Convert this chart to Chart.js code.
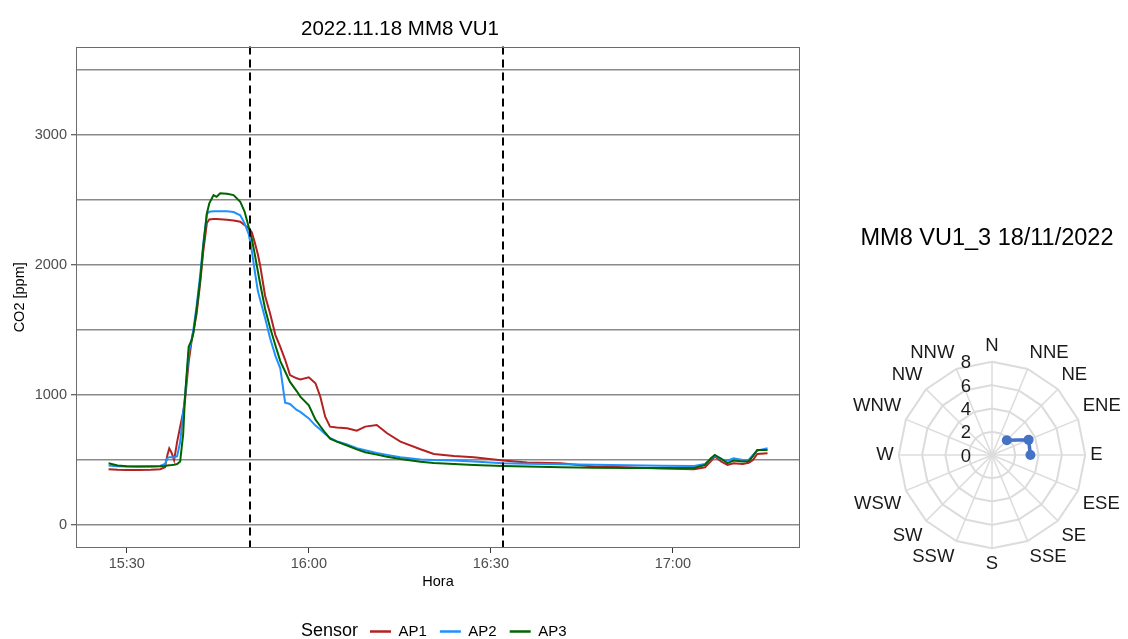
<!DOCTYPE html>
<html><head><meta charset="utf-8">
<script src="https://cdn.jsdelivr.net/npm/chart.js@4.4.1/dist/chart.umd.min.js"></script>
<style>
html,body{margin:0;padding:0;background:#fff;overflow:hidden;width:1128px;height:639px;}
canvas{position:absolute;}
#co2{left:0;top:0;}
#wind{left:848px;top:220px;}
</style></head><body>
<canvas id="co2" width="820" height="639"></canvas>
<canvas id="wind" width="278" height="402"></canvas>
<script>
// ---------- data ----------
const sampleTimes = ['15:27:00','15:28:30','15:30:00','15:32:00','15:34:00','15:35:30','15:36:18','15:36:42','15:37:00','15:37:24',
 '15:37:48','15:38:18','15:38:48','15:39:18','15:39:36','15:40:12','15:40:42','15:41:00','15:41:30','15:42:06',
 '15:42:36','15:43:12','15:43:36','15:44:18','15:44:48','15:45:24','15:46:30','15:47:36','15:48:42','15:49:24',
 '15:50:06','15:50:36','15:51:06','15:51:36','15:52:00','15:52:48','15:53:36','15:54:30','15:55:18','15:56:06',
 '15:56:54','15:58:00','15:58:36','16:00:00','16:01:06','16:01:54','16:02:42','16:03:30','16:04:36','16:06:18',
 '16:07:54','16:09:18','16:11:12','16:12:54','16:15:06','16:18:24','16:20:36','16:23:54','16:27:12','16:32:00',
 '16:36:00','16:41:30','16:47:00','16:52:30','16:58:00','17:03:30','17:05:18','17:06:12','17:06:54','17:08:00',
 '17:09:00','17:10:00','17:11:30','17:12:30','17:13:12','17:13:54','17:15:36'];
const ap1 = [430,425,424,424,426,430,445,540,590,555,
 500,640,757,870,960,1250,1420,1490,1620,1860,
 2100,2320,2348,2352,2352,2350,2345,2340,2330,2305,
 2280,2250,2170,2080,1990,1760,1630,1460,1370,1270,
 1153,1128,1120,1136,1090,987,833,757,750,744,
 726,757,770,706,642,583,547,532,522,496,
 481,476,450,445,435,430,445,488,527,488,
 463,476,470,480,501,547,553];
const ap2 = [458,452,450,450,452,455,470,515,522,522,
 520,530,640,862,990,1320,1430,1510,1680,1920,
 2160,2390,2407,2410,2410,2410,2410,2405,2380,2320,
 2235,2110,1950,1800,1730,1590,1440,1300,1205,941,
 931,885,870,820,765,735,700,670,645,620,
 591,575,555,540,522,505,500,496,490,476,
 472,468,464,460,457,455,470,510,532,505,
 496,514,500,501,540,573,591];
const ap3 = [476,458,452,450,450,452,455,458,460,462,
 465,470,490,700,987,1371,1422,1480,1652,1883,
 2138,2394,2471,2535,2522,2548,2545,2535,2484,2410,
 2290,2200,2080,1950,1850,1660,1520,1380,1260,1180,
 1100,1030,987,920,810,760,710,665,642,612,
 582,560,542,525,508,487,478,470,463,455,
 450,445,442,440,440,440,463,510,540,510,
 476,496,490,492,530,578,578];
const sensorNames = ['AP1','AP2','AP3'];
const eventTimes = ['15:50:20','16:32:00'];
const xTickLabels = ['15:30','16:00','16:30','17:00'];
const yTickValues = [0,1000,2000,3000];
const yGridValues = [0,500,1000,1500,2000,2500,3000,3500];
const windDirections = ['N','NNE','NE','ENE','E','ESE','SE','SSE','S','SSW','SW','WSW','W','WNW','NW','NNW'];
const windSpeeds = [null,null,1.8,3.4,3.3,null,null,null,null,null,null,null,null,null,null,null];
const windTicks = [0,2,4,6,8];

// ---------- helpers ----------
const FONT = "'Liberation Sans', Arial, sans-serif";
Chart.defaults.font.family = FONT;
function toMin(s){ const p = s.split(':').map(Number); return p[0]*60 + p[1] + (p[2]||0)/60; }
const seriesColors = ['#B22222','#1E90FF','#006400'];
const seriesValues = [ap1, ap2, ap3];

const co2Decor = {
  id: 'co2Decor',
  afterLayout(chart){
    const lg = chart.legend;
    if (!lg) return;
    const pad = lg.options.labels.padding;
    lg.left = 370 - pad; lg.right = lg.left + 420; lg.width = 420;
    lg.top = 631.5 - pad - 7.5; lg.bottom = lg.top + lg.height;
  },
  afterDatasetsDraw(chart){
    const {ctx, chartArea:a, scales:{x}} = chart;
    ctx.save();
    ctx.strokeStyle = '#000'; ctx.lineWidth = 2; ctx.setLineDash([8,5]);
    eventTimes.forEach(t => {
      const px = Math.round(x.getPixelForValue(toMin(t)));
      ctx.beginPath(); ctx.moveTo(px, a.top); ctx.lineTo(px, a.bottom); ctx.stroke();
    });
    ctx.restore();
  },
  afterDraw(chart){
    const {ctx, chartArea:a} = chart;
    ctx.save();
    ctx.strokeStyle = '#6b6b6b'; ctx.lineWidth = 1;
    ctx.strokeRect(Math.round(a.left)+0.5, Math.round(a.top)+0.5, Math.round(a.right-a.left)-1, Math.round(a.bottom-a.top)-1);
    const lg = chart.legend;
    ctx.fillStyle = '#000'; ctx.font = '18px ' + FONT; ctx.textAlign = 'right'; ctx.textBaseline = 'middle';
    ctx.fillText('Sensor', lg.left + lg.options.labels.padding - 12, 631.5);
    ctx.restore();
  }
};

new Chart(document.getElementById('co2'), {
  type: 'line',
  data: {
    datasets: sensorNames.map((name, i) => ({
      label: name,
      data: sampleTimes.map((t, k) => ({x: toMin(t), y: seriesValues[i][k]})),
      borderColor: seriesColors[i], backgroundColor: seriesColors[i],
      borderWidth: 2, pointRadius: 0, tension: 0, fill: false, order: 3 - i
    }))
  },
  options: {
    responsive: false, animation: false,
    layout: {padding: {left: 0, right: 20, top: 0, bottom: 0}},
    plugins: {
      tooltip: {enabled: false},
      title: {display: true, text: '2022.11.18 MM8 VU1', color: '#000',
        font: {size: 20.5, weight: 'normal'}, padding: {top: 17, bottom: 5}},
      legend: {display: true, position: 'bottom', align: 'start',
        labels: {boxWidth: 21, boxHeight: 2.5, padding: 13, color: '#000', font: {size: 15},
          generateLabels: (chart) => chart.data.datasets.map((d, i) => ({
            text: d.label, fillStyle: d.borderColor, strokeStyle: d.borderColor,
            lineWidth: 0, hidden: false, datasetIndex: i}))}}
    },
    scales: {
      x: {
        type: 'linear', min: toMin('15:21:38'), max: toMin('17:20:57'),
        afterBuildTicks: (s) => { s.ticks = xTickLabels.map(l => ({value: toMin(l)})); },
        afterFit: (s) => { s.height = 53; },
        ticks: {autoSkip: false, maxRotation: 0, padding: 2, color: '#4d4d4d', font: {size: 14.5},
          callback: (v, i) => xTickLabels[i]},
        grid: {display: true, drawOnChartArea: false, drawTicks: true, tickLength: 5, tickColor: '#333', tickWidth: 1},
        border: {display: false},
        title: {display: true, text: 'Hora', color: '#000', font: {size: 14.5}, padding: {top: 0, bottom: 10.5}}
      },
      y: {
        min: -175, max: 3675,
        afterBuildTicks: (s) => { s.ticks = yGridValues.map(v => ({value: v})); },
        afterFit: (s) => { s.width = 76; },
        ticks: {padding: 4, color: '#4d4d4d', font: {size: 14.5},
          callback: (v) => yTickValues.includes(v) ? String(v) : ''},
        grid: {color: '#8a8a8a', lineWidth: 1.5, drawTicks: true, tickLength: 5, tickWidth: 1,
          tickColor: (c) => (c.tick && yTickValues.includes(c.tick.value)) ? '#333' : 'rgba(0,0,0,0)'},
        border: {display: false},
        title: {display: true, text: 'CO2 [ppm]', color: '#000', font: {size: 14.5}, padding: {top: 11, bottom: 0}}
      }
    }
  },
  plugins: [co2Decor]
});

const radarTicks = {
  id: 'radarTicks',
  afterDraw(chart){
    const s = chart.scales.r, ctx = chart.ctx;
    ctx.save();
    ctx.fillStyle = '#1a1a1a'; ctx.font = '18.5px ' + FONT; ctx.textAlign = 'right'; ctx.textBaseline = 'middle';
    windTicks.forEach(v => {
      ctx.fillText(String(v), s.xCenter - 21, s.yCenter - s.getDistanceFromCenterForValue(v) + 1.5);
    });
    ctx.restore();
  }
};

new Chart(document.getElementById('wind'), {
  type: 'radar',
  data: {labels: windDirections, datasets: [{
    label: 'Viento', data: windSpeeds, borderColor: '#4472C4', backgroundColor: '#4472C4',
    pointBackgroundColor: '#4472C4', pointBorderColor: '#4472C4', borderWidth: 3.5,
    pointRadius: 5, pointBorderWidth: 0, fill: false, spanGaps: false}]},
  options: {
    responsive: false, animation: false,
    plugins: {legend: {display: false}, tooltip: {enabled: false},
      title: {display: true, text: 'MM8 VU1_3 18/11/2022', color: '#000',
        font: {size: 23.5, weight: 'normal'}, padding: {top: 4, bottom: 37}}},
    scales: {r: {
      min: 0, max: 8,
      afterBuildTicks: (s) => { s.ticks = windTicks.map(v => ({value: v})); },
      ticks: {display: false},
      grid: {color: '#dcdcdc', lineWidth: 2},
      angleLines: {color: '#dcdcdc', lineWidth: 1.5},
      pointLabels: {color: '#1a1a1a', font: {size: 18.5}, padding: 5}
    }}
  },
  plugins: [radarTicks]
});
</script>
</body></html>
